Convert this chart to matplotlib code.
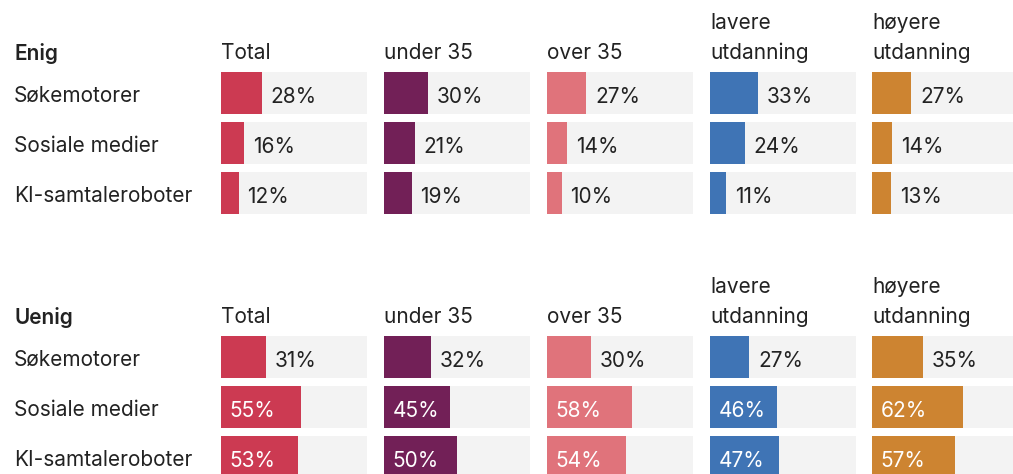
import matplotlib
matplotlib.use("Agg")
import matplotlib.pyplot as plt
from matplotlib.transforms import blended_transform_factory

plt.rcParams["font.family"] = ["Inter", "DejaVu Sans"]

# data
rows = ["Søkemotorer", "Sosiale medier", "KI-samtaleroboter"]
groups = ["Total", "under 35", "over 35", "lavere\nutdanning", "høyere\nutdanning"]
colors = ["#cc3a52", "#722057", "#e0737b", "#3f74b5", "#cd8431"]
sections = ["Enig", "Uenig"]

enig_total = [28, 16, 12]
enig_under35 = [30, 21, 19]
enig_over35 = [27, 14, 10]
enig_lavere = [33, 24, 11]
enig_hoyere = [27, 14, 13]

uenig_total = [31, 55, 53]
uenig_under35 = [32, 45, 50]
uenig_over35 = [30, 58, 54]
uenig_lavere = [27, 46, 47]
uenig_hoyere = [35, 62, 57]

values = {
    "Enig": [enig_total, enig_under35, enig_over35, enig_lavere, enig_hoyere],
    "Uenig": [uenig_total, uenig_under35, uenig_over35, uenig_lavere, uenig_hoyere],
}

# layout in pixels
W, H = 1013, 474
col_x = [221, 384, 547, 710, 872]
col_w = 146
sec_top = [68, 332]   # top of the first row slot
row_h = 50
label_x = 14
header_dy = 15        # header line centre above the axes top
text_col = "#222222"
bg_col = "#f3f3f3"
fs = 15

fig = plt.figure(figsize=(W / 100, H / 100), dpi=100)
fig.patch.set_facecolor("white")

for s, sec in enumerate(sections):
    top = sec_top[s]
    for c, grp in enumerate(groups):
        ax = fig.add_axes([col_x[c] / W, 1 - (top + 3 * row_h) / H,
                           col_w / W, 3 * row_h / H])
        ax.set_xlim(0, 100)
        ax.set_ylim(2.5, -0.5)
        ax.axis("off")
        vals = values[sec][c]
        ys = range(len(rows))
        ax.barh(ys, [100] * len(rows), height=0.84, color=bg_col)
        ax.barh(ys, vals, height=0.84, color=colors[c])
        for y, v in zip(ys, vals):
            if v >= 40:
                ax.text(6, y + 0.08, f"{v}%", color="white", fontsize=fs,
                        va="center", ha="left")
            else:
                ax.text(v + 6, y + 0.08, f"{v}%", color=text_col, fontsize=fs,
                        va="center", ha="left")

        # column header, bottom line aligned
        lines = grp.split("\n")
        for k, line in enumerate(reversed(lines)):
            ypx = top - header_dy - k * 30
            fig.text(col_x[c] / W, 1 - ypx / H, line, color=text_col,
                     fontsize=fs, ha="left", va="center")

        if c == 0:
            tr = blended_transform_factory(fig.transFigure, ax.transData)
            for y, r in enumerate(rows):
                ax.text(label_x / W, y + 0.06, r, transform=tr, color=text_col,
                        fontsize=fs, ha="left", va="center", clip_on=False)

    fig.text(label_x / W, 1 - (top - header_dy) / H, sec, color=text_col,
             fontsize=fs, fontweight="semibold", ha="left", va="center")

fig.savefig("out.png", dpi=100)
